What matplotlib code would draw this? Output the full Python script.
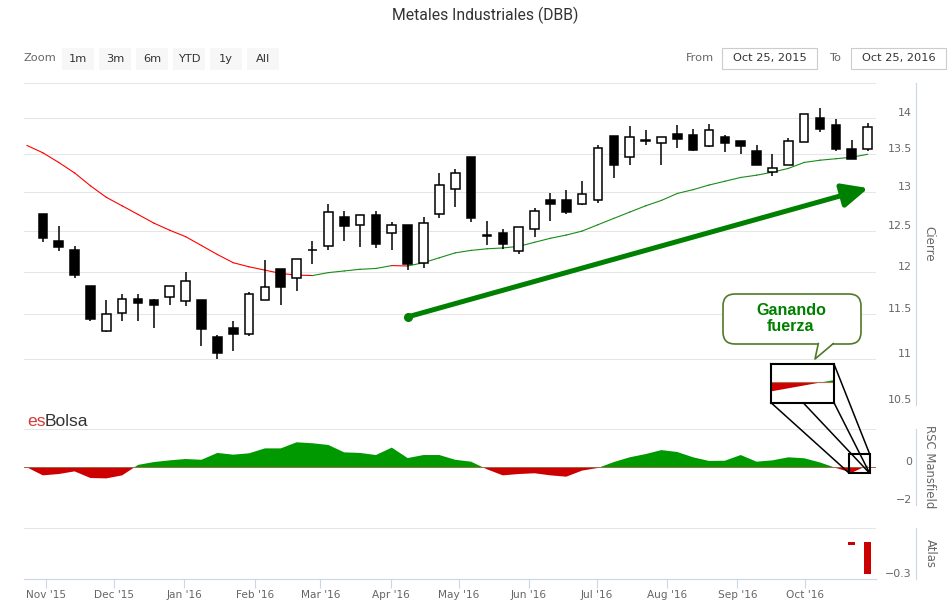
import matplotlib
matplotlib.use('Agg')
import matplotlib.pyplot as plt
import matplotlib.dates as mdates
from matplotlib.patches import Rectangle, FancyBboxPatch, Polygon, ConnectionPatch
from matplotlib.transforms import Affine2D
from matplotlib.ticker import NullLocator
import numpy as np
import pandas as pd

plt.rcParams['font.family'] = 'DejaVu Sans'

W, H = 953, 606

# weekly candles, DBB (Oct 30 2015 .. Oct 28 2016)
opens = [12.71, 12.38, 12.27, 11.83, 11.31, 11.52, 11.68, 11.66, 11.70, 11.65,
         11.67, 11.24, 11.34, 11.28, 11.66, 12.03, 11.93, 12.27, 12.32, 12.68,
         12.57, 12.70, 12.48, 12.57, 12.11, 12.71, 13.04, 13.46, 12.45, 12.48,
         12.25, 12.52, 12.89, 12.90, 12.84, 12.89, 13.75, 13.46, 13.69, 13.66,
         13.78, 13.76, 13.61, 13.74, 13.68, 13.54, 13.26, 13.36, 13.67, 14.00,
         13.90, 13.57, 13.57]
highs = [12.71, 12.56, 12.31, 11.83, 11.67, 11.74, 11.74, 11.68, 11.83, 12.00,
         11.67, 11.26, 11.42, 11.76, 12.14, 12.03, 12.15, 12.37, 12.84, 12.76,
         12.70, 12.76, 12.62, 12.57, 12.68, 13.25, 13.30, 13.46, 12.63, 12.53,
         12.55, 12.79, 12.98, 13.03, 13.14, 13.63, 13.75, 13.89, 13.83, 13.73,
         13.90, 13.84, 13.92, 13.76, 13.68, 13.62, 13.50, 13.72, 14.06, 14.14,
         13.98, 13.70, 13.93]
lows = [12.36, 12.25, 11.92, 11.42, 11.30, 11.42, 11.42, 11.34, 11.61, 11.60,
        11.14, 11.00, 11.08, 11.25, 11.66, 11.61, 11.77, 12.09, 12.27, 12.37,
        12.30, 12.29, 12.26, 12.02, 12.04, 12.66, 12.81, 12.62, 12.33, 12.28,
        12.22, 12.43, 12.63, 12.72, 12.83, 12.86, 13.18, 13.35, 13.62, 13.35,
        13.59, 13.55, 13.60, 13.53, 13.51, 13.36, 13.21, 13.36, 13.67, 13.81,
        13.55, 13.43, 13.55]
closes = [12.41, 12.30, 11.96, 11.45, 11.50, 11.68, 11.63, 11.61, 11.83, 11.89,
          11.33, 11.06, 11.27, 11.73, 11.82, 11.82, 12.15, 12.26, 12.74, 12.56,
          12.70, 12.34, 12.58, 12.09, 12.60, 13.09, 13.25, 12.66, 12.44, 12.34,
          12.55, 12.76, 12.84, 12.74, 12.97, 13.59, 13.35, 13.73, 13.68, 13.73,
          13.71, 13.56, 13.83, 13.65, 13.61, 13.36, 13.32, 13.68, 14.06, 13.85,
          13.57, 13.44, 13.88]

# moving average and RSC Mansfield, one value per week from Oct 23 2015
ma = [13.62, 13.52, 13.39, 13.25, 13.08, 12.93, 12.82, 12.71, 12.60, 12.51,
      12.43, 12.32, 12.21, 12.11, 12.06, 12.02, 11.98, 11.96, 11.955, 11.99,
      12.01, 12.03, 12.04, 12.075, 12.07, 12.11, 12.17, 12.23, 12.26, 12.28,
      12.29, 12.31, 12.36, 12.41, 12.45, 12.50, 12.58, 12.66, 12.74, 12.82,
      12.89, 12.98, 13.03, 13.09, 13.14, 13.19, 13.22, 13.26, 13.31, 13.39,
      13.42, 13.44, 13.46, 13.50]
rsc = [-0.02, -0.44, -0.37, -0.23, -0.58, -0.60, -0.44, 0.11, 0.26, 0.35,
       0.42, 0.38, 0.74, 0.65, 0.72, 0.98, 0.98, 1.30, 1.25, 1.16,
       0.77, 0.74, 0.63, 1.02, 0.47, 0.63, 0.63, 0.38, 0.28, -0.12,
       -0.44, -0.37, -0.33, -0.44, -0.51, -0.19, -0.05, 0.26, 0.51, 0.68,
       0.89, 0.79, 0.51, 0.32, 0.33, 0.63, 0.28, 0.35, 0.51, 0.46,
       0.24, -0.05, -0.30, 0.08]
atlas_week = [52, 53]
atlas_val = [-0.025, -0.26]

main_ticks = [10.5, 11, 11.5, 12, 12.5, 13, 13.5, 14, 14.5]
main_labels = ['10.5', '11', '11.5', '12', '12.5', '13', '13.5', '14', '']
month_ticks = pd.date_range('2015-11-01', '2016-10-01', freq='MS')

weeks = pd.date_range('2015-10-23 12:00', periods=len(ma), freq='7D')
wx = mdates.date2num(weeks.to_pydatetime())
cx = wx[1:]

fig = plt.figure(figsize=(W / 100, H / 100), dpi=100)
pxT = Affine2D().scale(1 / W, -1 / H).translate(0, 1) + fig.transFigure


def box(top, bottom):
    return [24 / W, 1 - bottom / H, 852 / W, (bottom - top) / H]


ax = fig.add_axes(box(83, 405))
ax_r = fig.add_axes(box(429, 505), sharex=ax)
ax_a = fig.add_axes(box(528, 579), sharex=ax)

for a in (ax, ax_r, ax_a):
    for s in ('top', 'left', 'bottom'):
        a.spines[s].set_visible(False)
    a.spines['right'].set_position(('outward', 28.8))
    a.spines['right'].set_color('#ccd6eb')
    a.spines['right'].set_linewidth(0.8)
    a.yaxis.tick_right()
    a.tick_params(axis='y', length=0, pad=-2.9, labelsize=7.9, labelcolor='#666666')
    a.tick_params(axis='x', length=0, labelbottom=False)
    a.grid(axis='y', color='#e6e6e6', lw=0.75)
    a.set_axisbelow(True)

# --- candles
ax.set_yscale('log')
ax.set_ylim(10.5, 14.5)
ax.yaxis.set_minor_locator(NullLocator())
ax.set_yticks(main_ticks, main_labels, ha='right', va='bottom')
body_w = 3.8
for x, o, h, l, c in zip(cx, opens, highs, lows, closes):
    ax.vlines(x, l, h, color='black', lw=1.1, zorder=2)
    ax.add_patch(Rectangle((x - body_w / 2, min(o, c)), body_w, abs(c - o),
                           fc='white' if c > o else 'black', ec='black', lw=1.1, zorder=3))

for i in range(len(ma) - 1):
    col = '#ff0000' if ma[i + 1] < ma[i] else '#1a8c1a'
    ax.plot(wx[i:i + 2], ma[i:i + 2], color=col, lw=0.8, zorder=1.5)

# trend arrow
a_start = mdates.date2num(pd.Timestamp('2016-04-08 14:00'))
a_end = mdates.date2num(pd.Timestamp('2016-10-28 19:00'))
ax.annotate('', xy=(a_end, 13.05), xytext=(a_start, 11.47),
            arrowprops=dict(arrowstyle='-|>,head_length=0.78,head_width=0.36',
                            mutation_scale=20, lw=3.6, color='#008000',
                            shrinkA=0, shrinkB=0), zorder=6)
ax.plot(a_start, 11.47, 'o', ms=5.5, color='#008000', zorder=6)

ax.set_ylabel('Cierre', rotation=270, color='#666666', fontsize=8.6)
ax.yaxis.set_label_position('right')
ax.yaxis.set_label_coords((929 - 24) / 852, 0.5)
ax.yaxis.label.set_va('center')
ax.yaxis.label.set_ha('center')

# --- RSC Mansfield
r = np.array(rsc)
ax_r.fill_between(wx, r, 0, where=r >= 0, interpolate=True, color='#009900', lw=0, zorder=2)
ax_r.fill_between(wx, r, 0, where=r <= 0, interpolate=True, color='#cc0000', lw=0, zorder=2)
ax_r.axhline(0, color='#9a6b4b', lw=0.7, zorder=2.5)
ax_r.set_ylim(-2, 2)
ax_r.set_yticks([-2, 0, 2], ['\u22122', '0', ''], ha='right', va='bottom')
ax_r.set_ylabel('RSC Mansfield', rotation=270, color='#666666', fontsize=8.4)
ax_r.yaxis.set_label_position('right')
ax_r.yaxis.set_label_coords((930 - 24) / 852, 0.5)
ax_r.yaxis.label.set_va('center')
ax_r.yaxis.label.set_ha('center')

# --- Atlas
ax_a.bar(wx[atlas_week], atlas_val, width=3.1, color='#cc0000', zorder=2)
ax_a.set_ylim(-0.3, 0.113)
ax_a.set_yticks([-0.3, 0.113], ['\u22120.3', ''], ha='right', va='bottom')
ax_a.set_ylabel('Atlas', rotation=270, color='#666666', fontsize=8.4)
ax_a.yaxis.set_label_position('right')
ax_a.yaxis.set_label_coords((930 - 24) / 852, 0.5)
ax_a.yaxis.label.set_va('center')
ax_a.yaxis.label.set_ha('center')
ax_a.spines['bottom'].set_visible(True)
ax_a.spines['bottom'].set_color('#ccd6eb')
ax_a.spines['bottom'].set_linewidth(0.8)
ax_a.set_xticks(mdates.date2num(month_ticks.to_pydatetime()))
ax_a.xaxis.set_major_formatter(mdates.DateFormatter("%b '%y"))
ax_a.tick_params(axis='x', length=6.5, width=0.8, color='#ccd6eb', pad=1.5,
                 labelsize=7.6, labelcolor='#666666', labelbottom=True)
ax.set_xlim(mdates.date2num(pd.Timestamp('2015-10-22 04:00')),
            mdates.date2num(pd.Timestamp('2016-11-01 05:00')))

# --- zoomed inset of the last weeks
ax_in = ax.inset_axes([0.8768, 0.0071, 0.0739, 0.1202])
ax_in.fill_between(wx, r, 0, where=r >= 0, interpolate=True, color='#009900', lw=0)
ax_in.fill_between(wx, r, 0, where=r <= 0, interpolate=True, color='#cc0000', lw=0)
ax_in.axhline(0, color='#b0704b', lw=0.8)
ax_in.set_xlim(wx[52], wx[53])
ax_in.set_ylim(-0.68, 0.62)
ax_in.set_xticks([])
ax_in.set_yticks([])
for s in ax_in.spines.values():
    s.set_linewidth(1.5)
    s.set_color('black')
ax_in.set_zorder(7)

sb_x0 = mdates.date2num(pd.Timestamp('2016-10-20 10:00'))
sb_x1 = mdates.date2num(pd.Timestamp('2016-10-29 10:00'))
sb_y0, sb_y1 = -0.33, 0.68
ax_r.add_patch(Rectangle((sb_x0, sb_y0), sb_x1 - sb_x0, sb_y1 - sb_y0, fill=False,
                         ec='black', lw=1.5, zorder=6, clip_on=False))
for pa, pb in [((0, 0), (sb_x0, sb_y0)), ((0.51, 0), (sb_x1, sb_y0)),
               ((1, 0), (sb_x1, sb_y0)), ((1, 1), (sb_x1, sb_y1))]:
    cp = ConnectionPatch(xyA=pa, coordsA=ax_in.transAxes, xyB=pb, coordsB=ax_r.transData,
                         color='black', lw=1.1, zorder=8)
    fig.add_artist(cp)

# --- callout
fig.add_artist(FancyBboxPatch((723, 294), 138, 50, boxstyle='round,pad=0,rounding_size=12',
                              transform=pxT, fc='white', ec='#4f7a28', lw=1.2, zorder=9))
fig.add_artist(Polygon([(818.3, 342.5), (815, 359), (833.3, 342.5)], closed=True,
                       transform=pxT, fc='white', ec='none', zorder=10))
fig.add_artist(plt.Line2D([818.3, 815, 833.3], [343.6, 359, 343.6], transform=pxT,
                          color='#4f7a28', lw=1.2, zorder=11))
fig.text(791, 318.5, 'Ganando\nfuerza', transform=pxT, ha='center', va='center',
         family='Liberation Sans', fontweight='bold', fontsize=11.6, color='#008000',
         linespacing=1.1, zorder=12)

# --- logo
fig.text(27, 426, 'es', transform=pxT, ha='left', va='baseline',
         family='Liberation Sans', fontsize=12.6, color='#d43a3a')
fig.text(44.5, 426, 'Bolsa', transform=pxT, ha='left', va='baseline',
         family='Liberation Sans', fontsize=12.6, color='#333333')

# --- header
fig.text(485, 15, 'Metales Industriales (DBB)', transform=pxT, ha='center', va='center',
         family='Roboto', fontsize=11.3, color='#333333')
fig.text(24, 58, 'Zoom', transform=pxT, ha='left', va='center', fontsize=8.2, color='#666666')
btn_labels = ['1m', '3m', '6m', 'YTD', '1y', 'All']
for k, lab in enumerate(btn_labels):
    x0 = 62 + 37 * k
    fig.add_artist(Rectangle((x0, 48), 32, 22, transform=pxT, fc='#f7f7f7', ec='none'))
    fig.text(x0 + 16, 58.5, lab, transform=pxT, ha='center', va='center',
             fontsize=8.2, color='#333333')
fig.text(714, 58, 'From', transform=pxT, ha='right', va='center', fontsize=8.2, color='#666666')
fig.text(835, 58, 'To', transform=pxT, ha='center', va='center', fontsize=8.2, color='#666666')
for x0, lab in [(722, 'Oct 25, 2015'), (851, 'Oct 25, 2016')]:
    fig.add_artist(Rectangle((x0, 48), 95, 21, transform=pxT, fc='white', ec='#cccccc', lw=0.8))
    fig.text(x0 + 47.5, 58.5, lab, transform=pxT, ha='center', va='center',
             fontsize=8.2, color='#333333')

fig.savefig('out.png', dpi=100)
